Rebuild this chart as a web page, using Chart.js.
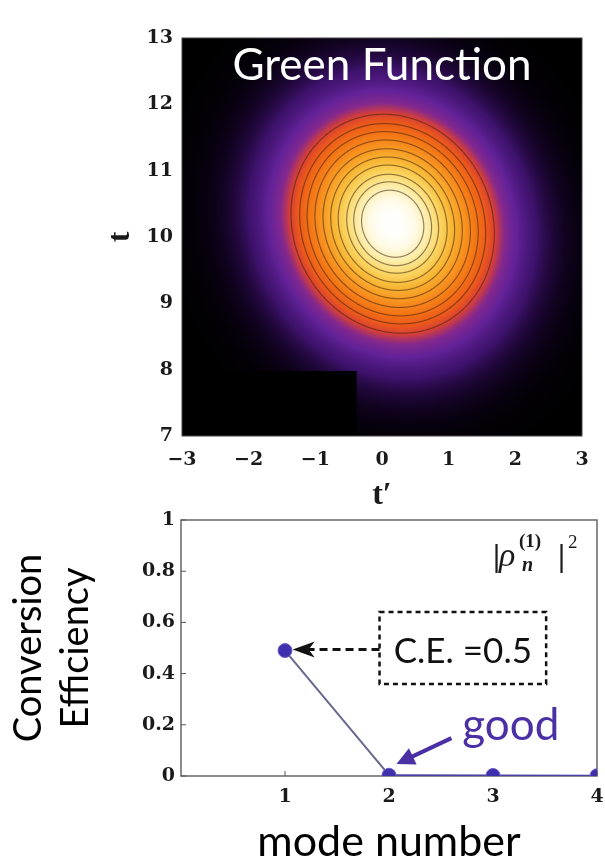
<!DOCTYPE html>
<html>
<head>
<meta charset="utf-8">
<script src="https://cdn.jsdelivr.net/npm/chart.js@4.4.0/dist/chart.umd.min.js"></script>
<style>
  html, body { margin: 0; padding: 0; background: #fff; width: 605px; height: 861px; overflow: hidden; }
  #greenChart { position: absolute; left: 0; top: 0; }
  #modeChart { position: absolute; left: 0; top: 480px; }
</style>
</head>
<body>
<canvas id="greenChart" width="605" height="520"></canvas>
<canvas id="modeChart" width="605" height="381"></canvas>
<script>
/* ----- data: green function map ----- */
const tPrimeRange = [-3, 3];
const tRange = [7, 13];
const peakCenter = [0.16, 10.2];   // t', t
const peakWidth = [0.85, 0.92];
const peakCorr = -0.09;
const contourLevels = [0.86, 0.79, 0.72, 0.63, 0.55, 0.47, 0.39, 0.32, 0.26, 0.2];
const heatStops = [0, 0.004, 0.015, 0.04, 0.09, 0.14, 0.19, 0.24, 0.33, 0.45, 0.58, 0.7, 0.82, 0.92, 1];
const heatColors = [
  [0, 0, 0], [8, 1, 16], [26, 5, 48], [62, 18, 108], [98, 34, 152], [132, 40, 142],
  [212, 62, 58], [234, 86, 28], [243, 115, 20], [247, 148, 32], [248, 182, 52],
  [250, 212, 96], [252, 236, 164], [255, 250, 228], [255, 255, 255]
];
const maskTPrime = [-3, -0.38];
const maskT = [7, 7.98];

/* ----- data: conversion efficiency ----- */
const modeNumbers = [1, 2, 3, 4];
const conversionEff = [0.49, 0.003, 0.002, 0.001];
const effTicks = [0, 0.2, 0.4, 0.6, 0.8, 1];

const tickFont = { family: '"DejaVu Serif"', size: 19, weight: 'bold' };
const sansFont = '"Lato", "Open Sans", sans-serif';

/* ----- heat map ----- */
function greenValue(tp, t) {
  const dx = (tp - peakCenter[0]) / peakWidth[0];
  const dy = (t - peakCenter[1]) / peakWidth[1];
  const q = (dx * dx - 2 * peakCorr * dx * dy + dy * dy) / (1 - peakCorr * peakCorr);
  return Math.exp(-q / 2);
}

function heatColor(v) {
  for (let k = 1; k < heatStops.length; k++) {
    if (v <= heatStops[k]) {
      const f = (v - heatStops[k - 1]) / (heatStops[k] - heatStops[k - 1]);
      const a = heatColors[k - 1], b = heatColors[k];
      return [a[0] + (b[0] - a[0]) * f, a[1] + (b[1] - a[1]) * f, a[2] + (b[2] - a[2]) * f];
    }
  }
  return heatColors[heatColors.length - 1];
}

const heatPlugin = {
  id: "heat",
  beforeDatasetsDraw(chart) {
    const { ctx, chartArea: a, scales: { x, y } } = chart;
    const w = Math.round(a.right - a.left), h = Math.round(a.bottom - a.top);
    const xs = [], ys = [];
    for (let i = 0; i <= w; i++) xs.push(x.getValueForPixel(a.left + i + 0.5));
    for (let j = 0; j <= h; j++) ys.push(y.getValueForPixel(a.top + j + 0.5));
    const grid = new Float32Array((w + 1) * (h + 1));
    for (let j = 0; j <= h; j++)
      for (let i = 0; i <= w; i++) grid[j * (w + 1) + i] = greenValue(xs[i], ys[j]);

    const off = document.createElement("canvas");
    off.width = w; off.height = h;
    const octx = off.getContext("2d");
    const img = octx.createImageData(w, h);
    for (let j = 0; j < h; j++) {
      for (let i = 0; i < w; i++) {
        const v = grid[j * (w + 1) + i];
        const vx = grid[j * (w + 1) + i + 1];
        const vy = grid[(j + 1) * (w + 1) + i];
        const g = Math.hypot(vx - v, vy - v) + 1e-9;
        let dmin = 99;
        for (const L of contourLevels) dmin = Math.min(dmin, Math.abs(v - L) / g);
        const al = Math.max(0, 1 - dmin / 1.1) * 0.58;
        const c = heatColor(v);
        const p = (j * w + i) * 4;
        img.data[p] = c[0] * (1 - al) + 60 * al;
        img.data[p + 1] = c[1] * (1 - al) + 30 * al;
        img.data[p + 2] = c[2] * (1 - al) + 10 * al;
        img.data[p + 3] = 255;
      }
    }
    octx.putImageData(img, 0, 0);
    ctx.save();
    ctx.drawImage(off, a.left, a.top, a.right - a.left, a.bottom - a.top);
    // black patch in the lower left corner of the scan
    ctx.fillStyle = "#000";
    const mx0 = x.getPixelForValue(maskTPrime[0]), mx1 = x.getPixelForValue(maskTPrime[1]);
    const my0 = y.getPixelForValue(maskT[1]), my1 = y.getPixelForValue(maskT[0]);
    ctx.fillRect(mx0, my0, mx1 - mx0, my1 - my0);
    ctx.strokeStyle = "#444";
    ctx.lineWidth = 1;
    ctx.strokeRect(a.left, a.top, a.right - a.left, a.bottom - a.top);
    ctx.fillStyle = "#fff";
    ctx.font = "44px " + sansFont;
    ctx.textAlign = "center";
    ctx.textBaseline = "alphabetic";
    ctx.fillText("Green Function", (a.left + a.right) / 2, 80);
    ctx.restore();
  }
};

function minusLabel(v) {
  return v < 0 ? "\u2212" + Math.abs(v) : String(v);
}

new Chart("greenChart", {
  type: "scatter",
  data: { datasets: [{ data: [], pointRadius: 0 }] },
  options: {
    responsive: false,
    animation: false,
    layout: { padding: { left: 0, top: 38, right: 23, bottom: 0 } },
    plugins: { legend: { display: false }, tooltip: { enabled: false } },
    scales: {
      x: {
        type: "linear", min: tPrimeRange[0], max: tPrimeRange[1],
        afterFit: s => { s.height = 84; },
        grid: { display: false, drawTicks: false }, border: { display: false },
        ticks: { stepSize: 1, padding: 13, color: "#1a1a1a", font: tickFont, callback: minusLabel },
        title: { display: true, text: "t\u2032", color: "#1a1a1a",
          font: { family: '"Liberation Serif"', size: 32, weight: "bold" }, padding: { top: 0, bottom: 5 } }
      },
      y: {
        type: "linear", min: tRange[0], max: tRange[1],
        afterFit: s => { s.width = 182; },
        grid: { display: false, drawTicks: false }, border: { display: false },
        ticks: { stepSize: 1, padding: 9, color: "#1a1a1a", font: tickFont },
        title: { display: true, text: "t", color: "#1a1a1a",
          font: { family: '"Liberation Serif"', size: 32, weight: "bold" }, padding: { top: 102, bottom: 0 } }
      }
    }
  },
  plugins: [heatPlugin]
});

/* ----- conversion efficiency ----- */
const noteBox = { x: [1.909, 3.511], y: [0.359, 0.641] };
const noteArrow = { from: 1.909, to: 1.074, y: 0.494 };
const goodArrow = { from: [2.6, 0.148], to: [2.072, 0.047] };

const notePlugin = {
  id: "notes",
  beforeDatasetsDraw(chart) {
    const { ctx, chartArea: a, scales: { x, y } } = chart;
    ctx.save();
    ctx.strokeStyle = "#666";
    ctx.lineWidth = 1.5;
    ctx.strokeRect(a.left, a.top, a.right - a.left, a.bottom - a.top);
    // inward ticks
    ctx.lineWidth = 1;
    ctx.strokeStyle = "#555";
    ctx.beginPath();
    effTicks.forEach(v => { const yy = y.getPixelForValue(v); ctx.moveTo(a.left, yy); ctx.lineTo(a.left + 5, yy); });
    modeNumbers.forEach(m => { const xx = x.getPixelForValue(m); ctx.moveTo(xx, a.bottom); ctx.lineTo(xx, a.bottom - 5); });
    ctx.stroke();
    ctx.restore();
  },
  afterDatasetsDraw(chart) {
    const { ctx, chartArea: a, scales: { x, y } } = chart;
    const px = v => x.getPixelForValue(v), py = v => y.getPixelForValue(v);
    ctx.save();
    // dashed box
    ctx.strokeStyle = "#111";
    ctx.lineWidth = 2.5;
    ctx.setLineDash([5, 4]);
    ctx.strokeRect(px(noteBox.x[0]), py(noteBox.y[1]), px(noteBox.x[1]) - px(noteBox.x[0]), py(noteBox.y[0]) - py(noteBox.y[1]));
    // dashed arrow
    const ay = py(noteArrow.y), tx = px(noteArrow.to);
    ctx.lineWidth = 3;
    ctx.setLineDash([8, 5]);
    ctx.beginPath();
    ctx.moveTo(px(noteArrow.from), ay);
    ctx.lineTo(tx + 16, ay);
    ctx.stroke();
    ctx.setLineDash([]);
    ctx.fillStyle = "#111";
    ctx.beginPath();
    ctx.moveTo(tx, ay);
    ctx.lineTo(tx + 22, ay - 8);
    ctx.lineTo(tx + 16, ay);
    ctx.lineTo(tx + 22, ay + 8);
    ctx.closePath();
    ctx.fill();
    // box text
    ctx.font = "35px " + sansFont;
    ctx.textAlign = "center";
    ctx.textBaseline = "alphabetic";
    ctx.fillText("C.E. =0.5", (px(noteBox.x[0]) + px(noteBox.x[1])) / 2, py(0.441));
    // good
    ctx.fillStyle = "#4a2fa5";
    ctx.strokeStyle = "#4a2fa5";
    ctx.font = "44px " + sansFont;
    ctx.textAlign = "left";
    ctx.fillText("good", px(2.705), py(0.141));
    const gx0 = px(goodArrow.from[0]), gy0 = py(goodArrow.from[1]);
    const gx1 = px(goodArrow.to[0]), gy1 = py(goodArrow.to[1]);
    const ang = Math.atan2(gy1 - gy0, gx1 - gx0);
    ctx.lineWidth = 4;
    ctx.beginPath();
    ctx.moveTo(gx0, gy0);
    ctx.lineTo(gx1 - 12 * Math.cos(ang), gy1 - 12 * Math.sin(ang));
    ctx.stroke();
    ctx.beginPath();
    ctx.moveTo(gx1, gy1);
    ctx.lineTo(gx1 - 18 * Math.cos(ang) + 9 * Math.sin(ang), gy1 - 18 * Math.sin(ang) - 9 * Math.cos(ang));
    ctx.lineTo(gx1 - 18 * Math.cos(ang) - 9 * Math.sin(ang), gy1 - 18 * Math.sin(ang) + 9 * Math.cos(ang));
    ctx.closePath();
    ctx.fill();
    // |rho_n^(1)|^2
    const lx = a.right - 104, ly = a.top + 46;
    ctx.fillStyle = "#1a1a1a";
    ctx.font = 'bold 32px "Liberation Serif"';
    ctx.fillText("|", lx, ly);
    ctx.font = 'italic 34px "Liberation Serif"';
    ctx.fillText("\u03c1", lx + 6, ly);
    ctx.font = 'bold 19px "Liberation Serif"';
    ctx.fillText("(1)", lx + 26, ly - 19);
    ctx.font = 'bold italic 20px "Liberation Serif"';
    ctx.fillText("n", lx + 29, ly + 5);
    ctx.font = 'bold 32px "Liberation Serif"';
    ctx.fillText("|", lx + 65, ly);
    ctx.font = '19px "Liberation Serif"';
    ctx.fillText("2", lx + 75, ly - 18);
    ctx.restore();
  }
};

new Chart("modeChart", {
  type: "line",
  data: {
    datasets: [{
      data: modeNumbers.map((m, i) => ({ x: m, y: conversionEff[i] })),
      clip: 0,
      borderColor: "#67678f",
      borderWidth: 2,
      segment: { borderColor: c => (c.p0DataIndex >= 1 ? "#4b3fa8" : "#67678f") },
      pointRadius: 7,
      pointBackgroundColor: "#3f31ad",
      pointBorderColor: "#6a60c8",
      pointBorderWidth: 1
    }]
  },
  options: {
    responsive: false,
    animation: false,
    layout: { padding: { left: 0, top: 40, right: 7, bottom: 0 } },
    plugins: { legend: { display: false }, tooltip: { enabled: false } },
    scales: {
      x: {
        type: "linear", min: 0, max: 4,
        afterFit: s => { s.height = 85; s.paddingLeft = 0; s.paddingRight = 0; },
        grid: { display: false, drawTicks: false },
        border: { display: false },
        ticks: { stepSize: 1, padding: 10, color: "#1a1a1a", font: tickFont,
          callback: v => (v === 0 ? "" : String(v)) },
        title: { display: true, text: "mode number", color: "#000",
          font: { family: sansFont, size: 43, lineHeight: 0.9 }, padding: { top: 0, bottom: 0 } }
      },
      y: {
        type: "linear", min: 0, max: 1,
        afterFit: s => { s.width = 181; s.paddingTop = 0; s.paddingBottom = 0; },
        afterBuildTicks: s => { s.ticks = effTicks.map(v => ({ value: v })); },
        grid: { display: false, drawTicks: false },
        border: { display: false },
        ticks: { padding: 6, color: "#1a1a1a", font: tickFont, callback: v => String(+v.toFixed(1)) },
        title: { display: true, text: ["Conversion", "Efficiency"], color: "#000",
          font: { family: sansFont, size: 38, lineHeight: 1.24 }, padding: { top: 5, bottom: 0 } }
      }
    }
  },
  plugins: [notePlugin]
});
</script>
</body>
</html>
